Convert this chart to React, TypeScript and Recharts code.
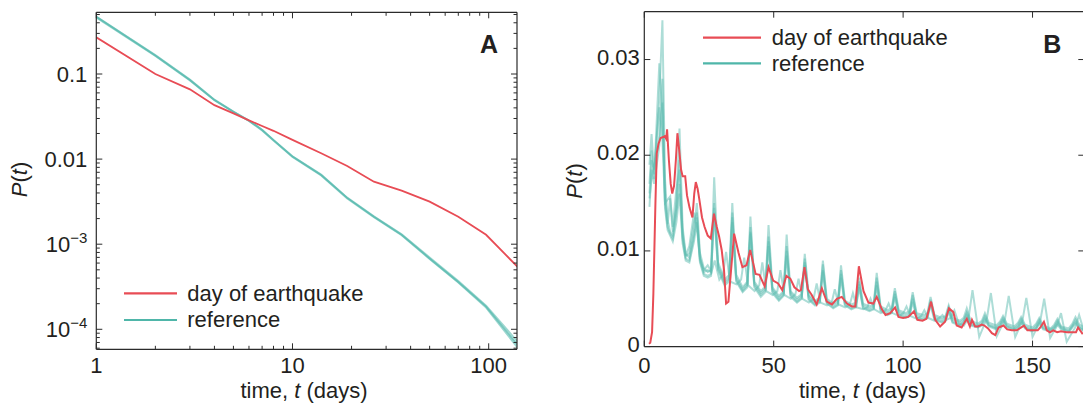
import React from 'react';
import { LineChart, Line, XAxis, YAxis, Legend } from 'recharts';

const FONT = '"Liberation Sans", Arial, Helvetica, sans-serif';
const TEXT = '#231f20';
const AXIS = '#2b2b2b';
const RED = '#e84c55';
const TEAL = '#4fb6a9';
const TEAL_LINE = '#5bbcb0';

// ---------------- Panel A (log-log) ----------------
const aDays = [1, 2, 3, 4, 5, 6, 7, 8, 10, 14, 19, 26, 36, 50, 70, 97, 140];
const aQuake = [0.27, 0.1, 0.066, 0.043, 0.0345, 0.0285, 0.0245, 0.0215, 0.0168, 0.0117, 0.0083, 0.00543, 0.00427, 0.00316, 0.0021, 0.00129, 0.000545];
const aRefA = [0.47, 0.165, 0.085, 0.0495, 0.036, 0.0283, 0.022, 0.0167, 0.0107, 0.0065, 0.0035, 0.0021, 0.00129, 0.00068, 0.00036, 0.000185, 0.000066];
const aRefB = [0.475, 0.167, 0.086, 0.05, 0.0362, 0.0285, 0.0222, 0.0168, 0.0108, 0.0066, 0.00353, 0.00213, 0.00131, 0.0007, 0.00037, 0.00019, 0.000072];
const aRefC = [0.46, 0.163, 0.084, 0.049, 0.0357, 0.028, 0.0217, 0.0165, 0.0106, 0.0064, 0.00345, 0.00208, 0.00127, 0.00067, 0.000355, 0.00018, 0.000061];

const aXMajor = [1, 10, 100];
const aXMajorLabels = ['1', '10', '100'];
const aXMinor = [2, 3, 4, 5, 6, 7, 8, 9, 20, 30, 40, 50, 60, 70, 80, 90];
const aYMajor = [0.1, 0.01, 0.001, 0.0001];
const aYLabelBase = ['0.1', '0.01', '10', '10'];
const aYLabelExp = ['', '', '\u22123', '\u22124'];
const aYMinor = [0.00006, 0.00007, 0.00008, 0.00009, 0.0002, 0.0003, 0.0004, 0.0005, 0.0006, 0.0007, 0.0008, 0.0009, 0.002, 0.003, 0.004, 0.005, 0.006, 0.007, 0.008, 0.009, 0.02, 0.03, 0.04, 0.05, 0.06, 0.07, 0.08, 0.09, 0.2, 0.3, 0.4, 0.5];

// ---------------- Panel B (linear) ----------------
const bXTicks = [0, 50, 100, 150];
const bXLabels = ['0', '50', '100', '150'];
const bYTicks = [0, 0.01, 0.02, 0.03];
const bYLabels = ['0', '0.01', '0.02', '0.03'];

const redT = [1.8, 2.3, 3.0, 3.5, 4.3, 4.8, 5.5, 6.3, 7.3, 7.9,
  8.5, 8.8, 9.5, 10.2, 10.8, 11.5, 12.2, 12.8, 13.5, 14.2,
  14.8, 15.8, 16.5, 17.5, 18.6, 19.3, 19.9, 20.6, 21.2, 22.3,
  23.3, 24.5, 25.7, 26.9, 28.0, 28.9, 29.9, 30.8, 31.6, 32.5,
  34.7, 36.4, 37.9, 39.5, 40.9, 42.1, 43.0, 44.5, 46.5, 48.0,
  49.8, 51.7, 53.3, 54.9, 56.4, 58.0, 59.8, 60.5, 61.9, 63.2,
  64.7, 66.6, 68.6, 70.5, 72.5, 74.4, 76.3, 78.3, 80.2, 81.5,
  82.9, 84.7, 86.6, 88.5, 89.8, 91.8, 93.2, 95.0, 96.9, 98.2,
  100, 102, 104.2, 105.5, 107.5, 109, 110.8, 112.4, 114.3, 116.2,
  117.7, 119.4, 120.7, 122.6, 124.6, 125.8, 126.6, 127.8, 129, 130.4,
  131.4, 132.8, 134.3, 135.6, 136.9, 138.8, 140.2, 142, 143.9, 146.7,
  148, 150, 152, 153, 154.4, 155.5, 156.7, 158, 159.5, 161,
  163.2, 165, 166.8, 167.6, 169.4];
const redP = [0.0003, 0.0004, 0.0015, 0.0055, 0.0150, 0.0202, 0.0212, 0.0218, 0.0219, 0.0220,
  0.0217, 0.0227, 0.0195, 0.0170, 0.0160, 0.0168, 0.0195, 0.0223, 0.0205, 0.0185,
  0.0178, 0.0178, 0.0158, 0.0145, 0.0135, 0.0160, 0.0172, 0.0165, 0.0155, 0.0135,
  0.0125, 0.0116, 0.0113, 0.0139, 0.0125, 0.0115, 0.0101, 0.0080, 0.0045, 0.0047,
  0.0118, 0.0098, 0.0083, 0.0085, 0.0101, 0.0087, 0.0076, 0.0075, 0.0063, 0.0083,
  0.0069, 0.0066, 0.0059, 0.0074, 0.0071, 0.0062, 0.0058, 0.0059, 0.0083, 0.0060,
  0.0054, 0.0044, 0.0061, 0.0047, 0.0044, 0.0050, 0.0052, 0.0045, 0.0042, 0.0042,
  0.0084, 0.0058, 0.0046, 0.0045, 0.0052, 0.0039, 0.0033, 0.0035, 0.0041, 0.0031,
  0.0030, 0.0031, 0.0037, 0.0028, 0.0027, 0.0029, 0.0047, 0.0028, 0.0021, 0.0026,
  0.0040, 0.0036, 0.0022, 0.0020, 0.0029, 0.0021, 0.0028, 0.0021, 0.0021, 0.0023,
  0.0022, 0.0019, 0.0014, 0.0012, 0.0020, 0.0022, 0.0018, 0.0017, 0.0017, 0.0022,
  0.0017, 0.0017, 0.0017, 0.0020, 0.0026, 0.0017, 0.0015, 0.0017, 0.0015, 0.0016,
  0.0015, 0.0015, 0.0015, 0.0020, 0.0013];

// shared time points of four reference series
const tealT = [2, 2.8, 3.8, 5.8, 7, 8, 9, 10, 11, 12.4, 13.6, 14.8, 16, 17.4, 19.2, 20.3, 21.5, 23, 24.5,
  25.8, 27, 28.5, 31,
  32.8, 34, 35.5, 38,
  39.8, 41, 42.5, 45,
  46.8, 48, 49.5, 52,
  53.8, 55, 56.5, 59,
  60.8, 62, 63.5, 66,
  67.8, 69, 70.5, 73,
  74.8, 76, 77.5, 80,
  81.8, 83, 84.5, 87,
  88.6, 89.8, 91.3, 94,
  95.6, 96.8, 98.3, 101,
  102.5, 103.7, 105.2, 108,
  109.4, 110.6, 112.1, 115,
  116.4, 117.6, 119.1, 122,
  123.4, 124.6, 126.1, 129,
  130.4, 131.6, 133.1, 136,
  137.4, 138.6, 140.1, 143,
  144.4, 145.6, 147.1, 150,
  151.4, 152.6, 154.1, 157,
  158.4, 159.6, 161.1, 164,
  165.4, 166.6, 168.1, 170];

const ref1 = [0.0190, 0.0222, 0.0180, 0.0260, 0.0341, 0.0175, 0.0132, 0.0120, 0.0116, 0.0150, 0.0228, 0.0125, 0.0097, 0.0093, 0.0120, 0.0150, 0.0098, 0.0082, 0.0078,
  0.0080, 0.0177, 0.0088, 0.0070,
  0.0075, 0.0150, 0.0075, 0.0062,
  0.0068, 0.0136, 0.0068, 0.0058,
  0.0063, 0.0127, 0.0062, 0.0053,
  0.0058, 0.0117, 0.0058, 0.0051,
  0.0055, 0.0097, 0.0054, 0.0048,
  0.0051, 0.0090, 0.0050, 0.0045,
  0.0048, 0.0085, 0.0048, 0.0044,
  0.0046, 0.0072, 0.0045, 0.0042,
  0.0044, 0.0077, 0.0042, 0.0038,
  0.0040, 0.0061, 0.0038, 0.0035,
  0.0037, 0.0057, 0.0035, 0.0033,
  0.0035, 0.0052, 0.0033, 0.0030,
  0.0032, 0.0043, 0.0030, 0.0027,
  0.0030, 0.0040, 0.0027, 0.0024,
  0.0027, 0.0035, 0.0025, 0.0022,
  0.0026, 0.0032, 0.0024, 0.0021,
  0.0025, 0.0031, 0.0023, 0.0020,
  0.0024, 0.0030, 0.0022, 0.0019,
  0.0023, 0.0029, 0.0021, 0.0019,
  0.0024, 0.0031, 0.0023, 0.0020];
const ref2 = [0.0170, 0.0205, 0.0175, 0.0296, 0.0240, 0.0160, 0.0128, 0.0155, 0.0120, 0.0145, 0.0195, 0.0115, 0.0094, 0.0098, 0.0130, 0.0140, 0.0094, 0.0078, 0.0080,
  0.0078, 0.0150, 0.0085, 0.0068,
  0.0072, 0.0140, 0.0072, 0.0060,
  0.0066, 0.0125, 0.0066, 0.0056,
  0.0061, 0.0115, 0.0060, 0.0051,
  0.0056, 0.0105, 0.0056, 0.0049,
  0.0053, 0.0092, 0.0052, 0.0046,
  0.0049, 0.0086, 0.0048, 0.0043,
  0.0046, 0.0080, 0.0046, 0.0042,
  0.0044, 0.0068, 0.0043, 0.0040,
  0.0042, 0.0072, 0.0040, 0.0036,
  0.0038, 0.0058, 0.0036, 0.0033,
  0.0035, 0.0054, 0.0033, 0.0031,
  0.0033, 0.0049, 0.0031, 0.0028,
  0.0030, 0.0041, 0.0028, 0.0025,
  0.0028, 0.0036, 0.0025, 0.0022,
  0.0025, 0.0032, 0.0023, 0.0020,
  0.0024, 0.0030, 0.0022, 0.0019,
  0.0023, 0.0029, 0.0021, 0.0018,
  0.0022, 0.0028, 0.0020, 0.0018,
  0.0021, 0.0027, 0.0020, 0.0017,
  0.0022, 0.0028, 0.0021, 0.0018];
const ref3 = [0.0160, 0.0195, 0.0185, 0.0220, 0.0280, 0.0150, 0.0125, 0.0118, 0.0113, 0.0140, 0.0170, 0.0112, 0.0092, 0.0090, 0.0115, 0.0135, 0.0090, 0.0076, 0.0074,
  0.0076, 0.0145, 0.0082, 0.0066,
  0.0070, 0.0135, 0.0070, 0.0058,
  0.0064, 0.0120, 0.0064, 0.0054,
  0.0059, 0.0110, 0.0058, 0.0049,
  0.0054, 0.0100, 0.0054, 0.0047,
  0.0051, 0.0088, 0.0050, 0.0044,
  0.0047, 0.0080, 0.0046, 0.0041,
  0.0044, 0.0076, 0.0044, 0.0040,
  0.0042, 0.0065, 0.0041, 0.0038,
  0.0040, 0.0068, 0.0038, 0.0034,
  0.0036, 0.0055, 0.0034, 0.0031,
  0.0033, 0.0050, 0.0031, 0.0029,
  0.0031, 0.0046, 0.0029, 0.0026,
  0.0028, 0.0038, 0.0026, 0.0023,
  0.0026, 0.0034, 0.0023, 0.0021,
  0.0023, 0.0030, 0.0022, 0.0019,
  0.0022, 0.0028, 0.0021, 0.0018,
  0.0021, 0.0027, 0.0020, 0.0017,
  0.0020, 0.0026, 0.0019, 0.0017,
  0.0020, 0.0025, 0.0019, 0.0016,
  0.0021, 0.0026, 0.0020, 0.0017];
const ref4 = [0.0146, 0.0185, 0.0170, 0.0210, 0.0255, 0.0145, 0.0122, 0.0116, 0.0110, 0.0130, 0.0160, 0.0108, 0.0090, 0.0088, 0.0110, 0.0130, 0.0088, 0.0074, 0.0072,
  0.0074, 0.0140, 0.0080, 0.0064,
  0.0068, 0.0130, 0.0068, 0.0057,
  0.0062, 0.0118, 0.0062, 0.0052,
  0.0057, 0.0105, 0.0056, 0.0048,
  0.0053, 0.0095, 0.0052, 0.0046,
  0.0050, 0.0085, 0.0049, 0.0043,
  0.0046, 0.0078, 0.0045, 0.0040,
  0.0043, 0.0072, 0.0043, 0.0039,
  0.0041, 0.0062, 0.0040, 0.0037,
  0.0039, 0.0064, 0.0037, 0.0033,
  0.0035, 0.0052, 0.0033, 0.0030,
  0.0032, 0.0047, 0.0030, 0.0028,
  0.0030, 0.0043, 0.0028, 0.0025,
  0.0027, 0.0036, 0.0025, 0.0022,
  0.0025, 0.0032, 0.0022, 0.0020,
  0.0022, 0.0028, 0.0021, 0.0018,
  0.0021, 0.0027, 0.0020, 0.0017,
  0.0020, 0.0025, 0.0019, 0.0016,
  0.0019, 0.0024, 0.0018, 0.0016,
  0.0019, 0.0023, 0.0018, 0.0015,
  0.0020, 0.0024, 0.0019, 0.0016];

// fifth reference series (shifted weekly phase)
const ref5T = [2, 3, 4, 5.8, 7, 8, 10, 11, 12.4, 13.6,
  14.8, 16, 17.4, 19.2, 20.3, 21.5, 23, 24.5, 26, 27.2,
  29, 30.4, 31.6, 33.1, 35.6, 37.4, 38.6, 40.1, 42.6, 44.4,
  45.6, 47.1, 49.6, 51.4, 52.6, 54.1, 56.6, 58.4, 59.6, 61.1,
  63.6, 65.4, 66.6, 68.1, 70.6, 72.4, 73.6, 75.1, 77.6, 79.4,
  80.6, 82.1, 84.6, 86.2, 87.4, 88.9, 91.4, 93.2, 94.4, 95.9,
  98.4, 100.1, 101.3, 102.8, 105.3, 107, 108.2, 109.7, 112.2, 114,
  115.2, 116.7, 118.3, 119.8, 121.5, 123.5, 125.3, 126.8, 129.4, 132.4,
  133.9, 136.2, 139.3, 140.8, 143.3, 146.1, 147.6, 150, 153, 154.5,
  156.8, 159.5, 161, 163.2, 166.5, 168, 170];
const ref5 = [0.0155, 0.0180, 0.0190, 0.0250, 0.0215, 0.0150, 0.0157, 0.0125, 0.0165, 0.0185,
  0.0120, 0.0095, 0.0105, 0.0140, 0.0125, 0.0092, 0.0080, 0.0085, 0.0078, 0.0090,
  0.0070, 0.0075, 0.0099, 0.0068, 0.0065, 0.0070, 0.0093, 0.0064, 0.0058, 0.0064,
  0.0088, 0.0058, 0.0054, 0.0058, 0.0080, 0.0054, 0.0050, 0.0055, 0.0071, 0.0050,
  0.0046, 0.0050, 0.0066, 0.0046, 0.0043, 0.0046, 0.0060, 0.0044, 0.0041, 0.0044,
  0.0056, 0.0041, 0.0039, 0.0041, 0.0050, 0.0039, 0.0035, 0.0038, 0.0045, 0.0035,
  0.0032, 0.0035, 0.0042, 0.0032, 0.0029, 0.0032, 0.0038, 0.0030, 0.0027, 0.0030,
  0.0033, 0.0028, 0.0030, 0.0038, 0.0024, 0.0022, 0.0030, 0.0059, 0.0010, 0.0030,
  0.0056, 0.0011, 0.0028, 0.0053, 0.0010, 0.0027, 0.0051, 0.0010, 0.0027, 0.0050,
  0.0009, 0.0022, 0.0035, 0.0005, 0.0020, 0.0033, 0.0015];

// ---------------- rows built from the arrays ----------------
const aRows = aDays.map((t, i) => ({ t, quake: aQuake[i], refA: aRefA[i], refB: aRefB[i], refC: aRefC[i] }));
const toRows = (ts: number[], ps: number[]) => ts.map((t, i) => ({ t, p: ps[i] }));
const redRows = toRows(redT, redP);
const refRows = [toRows(tealT, ref1), toRows(tealT, ref2), toRows(tealT, ref3), toRows(tealT, ref4), toRows(ref5T, ref5)];

// ---------------- tick renderers ----------------
const tickText: React.CSSProperties = { fontFamily: FONT, fontSize: 22, fill: TEXT };
const axisLine = { stroke: AXIS, strokeWidth: 1.2 };

const bottomTick = (majors: number[], labels: string[], dy: number) => (p: any) => {
  const i = majors.indexOf(p.payload?.value);
  return (
    <g>
      <line x1={p.x} x2={p.x} y1={p.y} y2={p.y - (i >= 0 ? 6 : 3.5)} stroke={AXIS} strokeWidth={1} />
      {i >= 0 && (
        <text x={p.x} y={p.y + dy} textAnchor="middle" style={tickText}>{labels[i]}</text>
      )}
    </g>
  );
};
const topTick = (majors: number[]) => (p: any) => {
  const major = majors.indexOf(p.payload?.value) >= 0;
  return <line x1={p.x} x2={p.x} y1={p.y} y2={p.y + (major ? 6 : 3.5)} stroke={AXIS} strokeWidth={1} />;
};
const leftTick = (majors: number[], base: string[], exp: string[] | null, gap: number, dy: number) => (p: any) => {
  const i = majors.indexOf(p.payload?.value);
  return (
    <g>
      <line x1={p.x} x2={p.x + (i >= 0 ? 6 : 3.5)} y1={p.y} y2={p.y} stroke={AXIS} strokeWidth={1} />
      {i >= 0 && (
        <text x={p.x - gap} y={p.y + dy} textAnchor="end" style={tickText}>
          {base[i]}
          {exp && exp[i] ? <tspan dy={-9} fontSize={15}>{exp[i]}</tspan> : null}
        </text>
      )}
    </g>
  );
};
const rightTick = (majors: number[]) => (p: any) => {
  const major = majors.indexOf(p.payload?.value) >= 0;
  return <line x1={p.x} x2={p.x - (major ? 6 : 3.5)} y1={p.y} y2={p.y} stroke={AXIS} strokeWidth={1} />;
};

type Entry = { label: string; color: string; y: number };
const legendBox = (x1: number, x2: number, tx: number, entries: Entry[], w: number, h: number) => () => (
  <svg width={w} height={h} style={{ position: 'absolute', left: 0, top: 0, overflow: 'visible' }}>
    {entries.map((e) => (
      <g key={e.label}>
        <line x1={x1} x2={x2} y1={e.y} y2={e.y} stroke={e.color} strokeWidth={2.2} />
        <text x={tx} y={e.y + 7.3} style={{ fontFamily: FONT, fontSize: 22, fill: TEXT }}>{e.label}</text>
      </g>
    ))}
  </svg>
);

const legendWrap = (w: number, h: number): React.CSSProperties => ({ position: 'absolute', left: 0, top: 0, width: w, height: h, pointerEvents: 'none' });

const aXTicks = [...aXMajor, ...aXMinor];
const aYTicks = [...aYMajor, ...aYMinor];
const aXDomain: [number, number] = [1, 139.4];
const aYDomain: [number, number] = [0.0000582, 0.531];

export default function App() {
  return (
    <div style={{ position: 'fixed', left: 0, top: 0, width: 1083, height: 405, overflow: 'hidden', background: '#fff' }}>
      {/* Panel A: plot area x 96.3..517, y 12.3..349.3 */}
      <div style={{ position: 'absolute', left: 0, top: 0 }}>
        <LineChart width={560} height={405} margin={{ top: 10.3, right: 41, bottom: 0, left: 0 }}>
          <XAxis xAxisId="x" dataKey="t" type="number" scale="log" domain={aXDomain} allowDataOverflow
            ticks={aXTicks} interval={0} tickLine={false} tickSize={0} tickMargin={0} height={55.7}
            axisLine={axisLine} tick={bottomTick(aXMajor, aXMajorLabels, 24)} />
          <XAxis xAxisId="xt" orientation="top" dataKey="t" type="number" scale="log" domain={aXDomain} allowDataOverflow
            ticks={aXTicks} interval={0} tickLine={false} tickSize={0} tickMargin={0} height={2}
            axisLine={axisLine} tick={topTick(aXMajor)} />
          <YAxis yAxisId="y" type="number" scale="log" domain={aYDomain} allowDataOverflow
            ticks={aYTicks} interval={0} tickLine={false} tickSize={0} tickMargin={0} width={96.3}
            axisLine={axisLine} tick={leftTick(aYMajor, aYLabelBase, aYLabelExp, 9, 8)} />
          <YAxis yAxisId="yr" orientation="right" type="number" scale="log" domain={aYDomain} allowDataOverflow
            ticks={aYTicks} interval={0} tickLine={false} tickSize={0} tickMargin={0} width={2}
            axisLine={axisLine} tick={rightTick(aYMajor)} />
          <Line xAxisId="x" yAxisId="y" data={aRows} dataKey="refC" type="linear" dot={false} stroke={TEAL_LINE} strokeOpacity={0.6} strokeWidth={1.8} isAnimationActive={false} />
          <Line xAxisId="x" yAxisId="y" data={aRows} dataKey="refB" type="linear" dot={false} stroke={TEAL_LINE} strokeOpacity={0.6} strokeWidth={1.8} isAnimationActive={false} />
          <Line xAxisId="x" yAxisId="y" data={aRows} dataKey="refA" type="linear" dot={false} stroke={TEAL_LINE} strokeOpacity={0.8} strokeWidth={1.8} isAnimationActive={false} />
          <Line xAxisId="x" yAxisId="y" data={aRows} dataKey="quake" type="linear" dot={false} stroke={RED} strokeWidth={1.8} isAnimationActive={false} />
          <Legend layout="vertical" align="center" verticalAlign="middle" wrapperStyle={legendWrap(560, 405)}
            content={legendBox(124, 177, 187.3, [
              { label: 'day of earthquake', color: RED, y: 293.3 },
              { label: 'reference', color: TEAL, y: 320 },
            ], 560, 405)} />
        </LineChart>
      </div>

      {/* Panel B: plot area x 644.3..1084.3, y 11.7..346.6 */}
      <div style={{ position: 'absolute', left: 560, top: 0 }}>
        <LineChart width={530} height={405} margin={{ top: 9.7, right: 3.7, bottom: 0, left: 0 }}>
          <XAxis xAxisId="x" dataKey="t" type="number" domain={[0, 170]} allowDataOverflow
            ticks={bXTicks} interval={0} tickLine={false} tickSize={0} tickMargin={0} height={58.4}
            axisLine={axisLine} tick={bottomTick(bXTicks, bXLabels, 26)} />
          <XAxis xAxisId="xt" orientation="top" dataKey="t" type="number" domain={[0, 170]} allowDataOverflow
            ticks={bXTicks} interval={0} tickLine={false} tickSize={0} tickMargin={0} height={2}
            axisLine={axisLine} tick={topTick(bXTicks)} />
          <YAxis yAxisId="y" type="number" domain={[0, 0.035]} allowDataOverflow
            ticks={bYTicks} interval={0} tickLine={false} tickSize={0} tickMargin={0} width={84.3}
            axisLine={axisLine} tick={leftTick(bYTicks, bYLabels, null, 4.5, 5)} />
          <YAxis yAxisId="yr" orientation="right" type="number" domain={[0, 0.035]} allowDataOverflow
            ticks={bYTicks} interval={0} tickLine={false} tickSize={0} tickMargin={0} width={2}
            axisLine={axisLine} tick={rightTick(bYTicks)} />
          {refRows.map((rows, k) => (
            <Line key={'ref' + k} xAxisId="x" yAxisId="y" data={rows} dataKey="p" type="linear" dot={false}
              stroke={TEAL_LINE} strokeOpacity={0.5} strokeWidth={2} isAnimationActive={false} />
          ))}
          <Line xAxisId="x" yAxisId="y" data={redRows} dataKey="p" type="linear" dot={false} stroke={RED} strokeWidth={2} isAnimationActive={false} />
          <Legend layout="vertical" align="center" verticalAlign="middle" wrapperStyle={legendWrap(530, 405)}
            content={legendBox(143, 201, 211.7, [
              { label: 'day of earthquake', color: RED, y: 37.7 },
              { label: 'reference', color: TEAL, y: 63.3 },
            ], 530, 405)} />
        </LineChart>
      </div>

      {/* titles and panel letters */}
      <svg width={1083} height={405} style={{ position: 'absolute', left: 0, top: 0, pointerEvents: 'none' }}>
        <g style={{ fontFamily: FONT, fontSize: 22, fill: TEXT }}>
          <text x={304} y={397.5} textAnchor="middle" style={{ whiteSpace: 'pre' }}>
            <tspan>{'time, '}</tspan><tspan fontStyle="italic">t</tspan><tspan>{' (days)'}</tspan>
          </text>
          <text x={862.5} y={397.5} textAnchor="middle" style={{ whiteSpace: 'pre' }}>
            <tspan>{'time, '}</tspan><tspan fontStyle="italic">t</tspan><tspan>{' (days)'}</tspan>
          </text>
          <text transform="translate(27,179.5) rotate(-90)" textAnchor="middle">
            <tspan fontStyle="italic">P</tspan><tspan>(</tspan><tspan fontStyle="italic">t</tspan><tspan>)</tspan>
          </text>
          <text transform="translate(582,181) rotate(-90)" textAnchor="middle">
            <tspan fontStyle="italic">P</tspan><tspan>(</tspan><tspan fontStyle="italic">t</tspan><tspan>)</tspan>
          </text>
          <text x={480} y={53} fontWeight="bold" fontSize={25}>A</text>
          <text x={1043.3} y={53} fontWeight="bold" fontSize={25}>B</text>
        </g>
      </svg>
    </div>
  );
}
